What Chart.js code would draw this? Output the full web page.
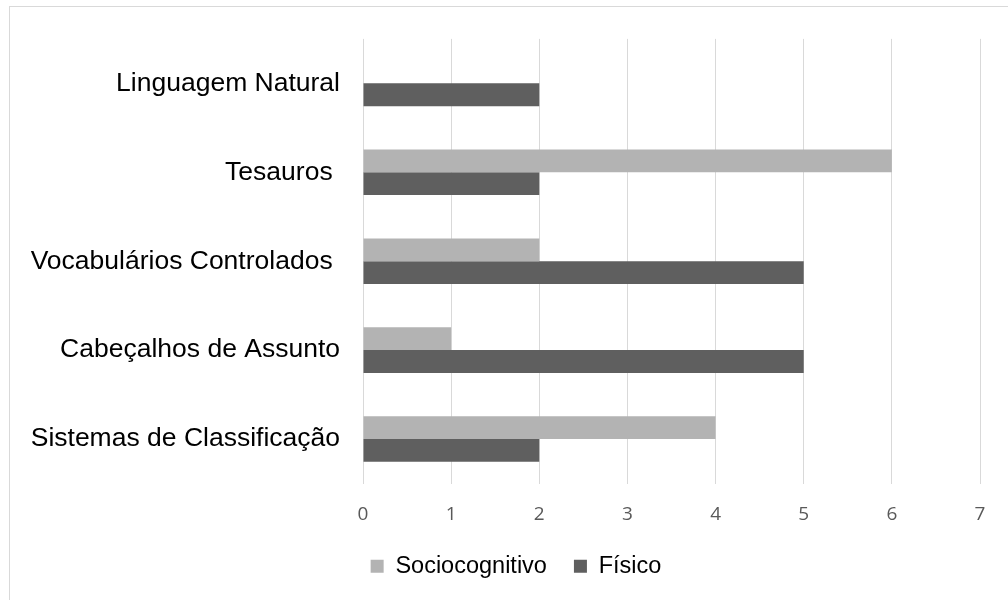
<!DOCTYPE html>
<html>
<head>
<meta charset="utf-8">
<script src="https://cdn.jsdelivr.net/npm/chart.js@4.4.0/dist/chart.umd.min.js"></script>
<style>
    body { margin: 0; background: #fff; overflow: hidden; }
    #moldura { position: absolute; left: 9px; top: 6px; width: 1020px; height: 620px; border: 1px solid #d9d9d9; }
    #caixa { position: absolute; left: 0; top: 0; width: 1008px; height: 600px; }
</style>
</head>
<body>
<div id="moldura"></div>
<div id="caixa"><canvas id="grafico"></canvas></div>
<script>
// Dados do gráfico
const categorias = ['Linguagem Natural', 'Tesauros ', 'Vocabulários Controlados ', 'Cabeçalhos de Assunto', 'Sistemas de Classificação'];
const sociocognitivo = [0, 6, 2, 1, 4];
const fisico = [2, 2, 5, 5, 2];
const ticksX = [0, 1, 2, 3, 4, 5, 6, 7];

// Desloca a legenda um pouco para a direita (como no original)
const deslocaLegenda = {
    id: 'deslocaLegenda',
    afterLayout(chart) {
        chart.legend.left += 16;
        chart.legend.right += 16;
    }
};

const ctx = document.getElementById('grafico').getContext('2d');
new Chart(ctx, {
    type: 'bar',
    data: {
        labels: categorias,
        datasets: [
            { label: 'Sociocognitivo', data: sociocognitivo, backgroundColor: '#b3b3b3' },
            { label: 'Físico', data: fisico, backgroundColor: '#5f5f5f' }
        ]
    },
    options: {
        indexAxis: 'y',
        responsive: true,
        maintainAspectRatio: false,
        animation: false,
        categoryPercentage: 0.513,
        barPercentage: 1,
        layout: { padding: { left: 20, right: 28, top: 35, bottom: 12 } },
        scales: {
            x: {
                min: ticksX[0],
                max: ticksX[ticksX.length - 1],
                ticks: {
                    stepSize: 1,
                    padding: 20,
                    color: '#595959',
                    font: { family: '"Open Sans"', size: 19 }
                },
                grid: { color: '#d9d9d9', lineWidth: 1, drawTicks: false },
                border: { display: false },
                afterFit: function(s) { s.height = 44; }
            },
            y: {
                ticks: {
                    padding: 23,
                    color: '#000',
                    font: { family: '"Liberation Sans", Arial', size: 26.5 }
                },
                grid: { display: false, drawTicks: false },
                border: { display: false },
                afterFit: function(s) { s.width = 343; }
            }
        },
        plugins: {
            legend: {
                position: 'bottom',
                labels: {
                    boxWidth: 13,
                    boxHeight: 13,
                    padding: 27,
                    color: '#000',
                    font: { family: '"Liberation Sans", Arial', size: 23.5 }
                }
            },
            tooltip: { enabled: false }
        }
    },
    plugins: [deslocaLegenda]
});
</script>
</body>
</html>
